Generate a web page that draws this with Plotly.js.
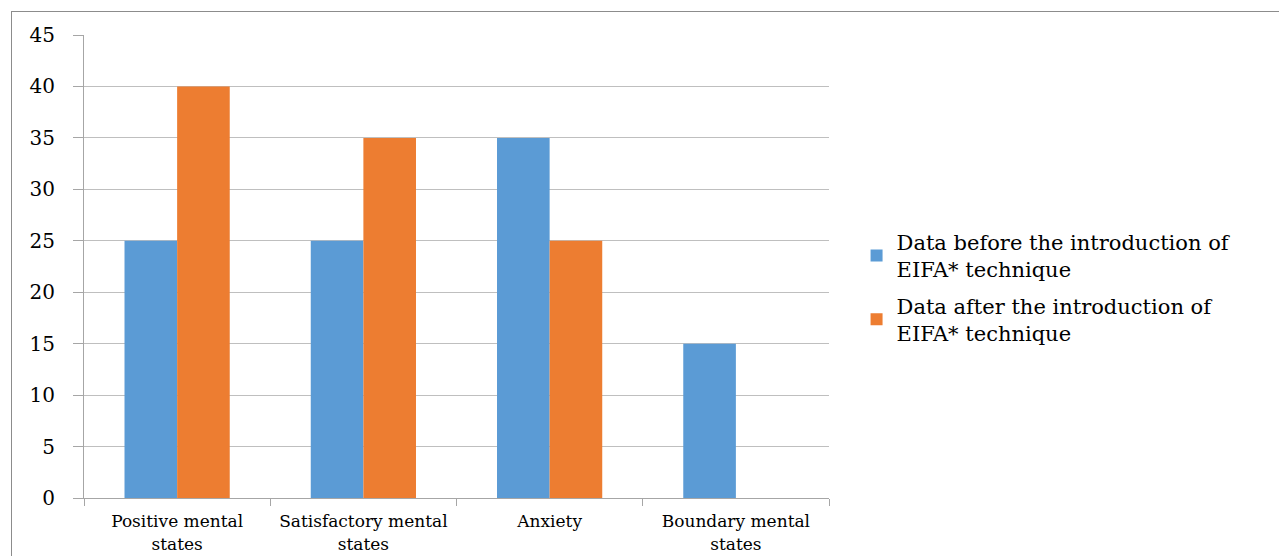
<!DOCTYPE html>
<html>
<head>
<meta charset="utf-8">
<script src="https://cdn.plot.ly/plotly-3.0.1.min.js"></script>
<style>
html,body{margin:0;padding:0;background:#fff;overflow:hidden;}
#frame{position:absolute;left:11px;top:11px;width:1400px;height:700px;border:1px solid #8c8c8c;box-sizing:border-box;}
#chart{position:absolute;left:0;top:0;width:1279px;height:556px;}
</style>
</head>
<body>
<div id="frame"></div>
<div id="chart"></div>
<script>
const categories = ["Positive mental<br>states", "Satisfactory mental<br>states", "Anxiety", "Boundary mental<br>states"];
const beforeValues = [25, 25, 35, 15];
const afterValues = [40, 35, 25, 0];
const seriesNames = ["Data before the introduction of<br>EIFA* technique", "Data after the introduction of<br>EIFA* technique"];
const yTicks = [0, 5, 10, 15, 20, 25, 30, 35, 40, 45];

const traces = [
  {type: "bar", x: categories, y: beforeValues, name: seriesNames[0], legendgroup: "a", marker: {color: "#5B9BD5"}},
  {type: "bar", x: categories, y: afterValues, name: seriesNames[1], legendgroup: "b", marker: {color: "#ED7D31"}}
];

const layout = {
  width: 1279, height: 556,
  margin: {l: 84, r: 450, t: 35, b: 58},
  paper_bgcolor: "rgba(0,0,0,0)",
  plot_bgcolor: "#fff",
  barmode: "group",
  bargap: 0.435,
  bargroupgap: 0,
  font: {family: "DejaVu Serif, Liberation Serif, serif", color: "#000"},
  xaxis: {
    showline: true, linecolor: "#a6a6a6", linewidth: 1,
    ticks: "outside", tickson: "boundaries", ticklen: 7, tickcolor: "#a6a6a6",
    ticklabelstandoff: 8,
    tickfont: {size: 17, family: "DejaVu Serif, serif"},
    showgrid: false, fixedrange: true
  },
  yaxis: {
    range: [0, 45], tickvals: yTicks, ticktext: yTicks.map(String),
    showline: true, linecolor: "#a6a6a6", linewidth: 1,
    ticks: "outside", ticklen: 10, tickcolor: "#a6a6a6",
    ticklabelstandoff: 14,
    showgrid: true, gridcolor: "#bfbfbf", gridwidth: 1,
    zeroline: false,
    tickfont: {size: 20, family: "DejaVu Serif, serif"},
    fixedrange: true
  },
  showlegend: true,
  legend: {
    x: 1.037, xanchor: "left", xref: "paper",
    y: 0.454, yanchor: "middle",
    tracegroupgap: 6,
    font: {size: 21, family: "DejaVu Serif, serif"},
    itemwidth: 30, itemclick: false, itemdoubleclick: false,
    bgcolor: "rgba(0,0,0,0)"
  }
};

Plotly.newPlot("chart", traces, layout, {displayModeBar: false, staticPlot: true});
</script>
</body>
</html>
